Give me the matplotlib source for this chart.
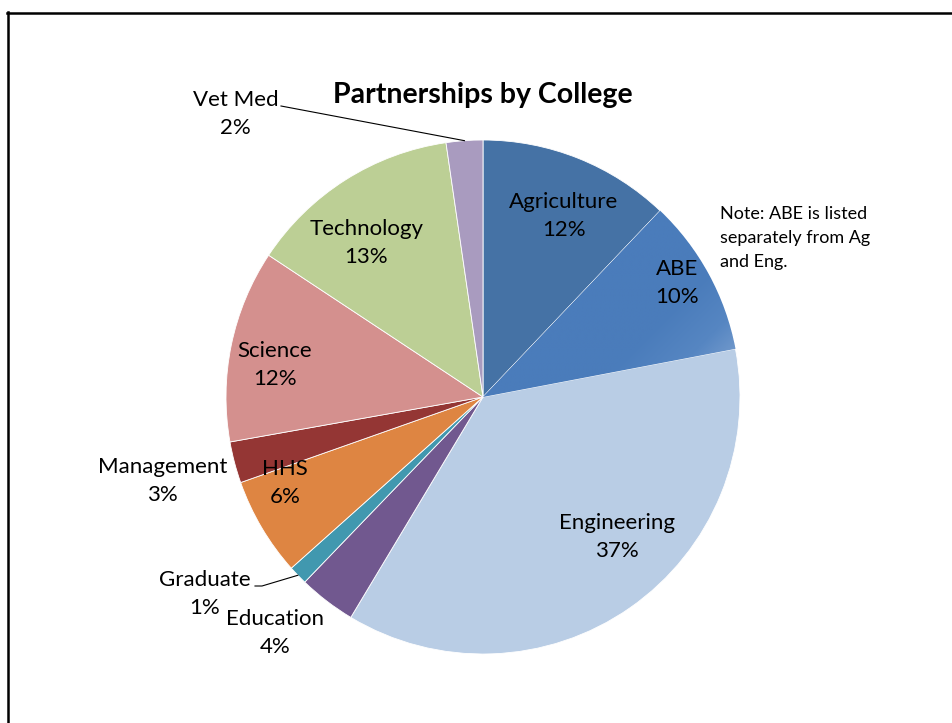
import numpy as np
import matplotlib
matplotlib.use("Agg")
import matplotlib.pyplot as plt
from matplotlib.lines import Line2D
from matplotlib.colors import LinearSegmentedColormap

# ---- data ----
colleges = ["Agriculture", "ABE", "Engineering", "Education", "Graduate",
            "HHS", "Management", "Science", "Technology", "Vet Med"]
shares = [12.1, 9.9, 36.6, 3.6, 1.2, 6.2, 2.6, 12.1, 13.4, 2.3]
title = "Partnerships by College"
note = "Note: ABE is listed\nseparately from Ag\nand Eng."

colors = ["#4572A5", "#4F81BD", "#B9CDE5", "#71588F", "#4198AF",
          "#DE8542", "#943634", "#D4908E", "#BCCF95", "#A99BBF"]

# label placement: (radius, angle offset from wedge middle in degrees)
label_r = [0.77, 0.876, 0.754, 1.224, 1.326, 0.84, 1.29, 0.819, 0.752, 1.462]
label_da = [-2.3, 1.8, 8.8, -4.0, -8.6, -7.1, 0.0, 2.9, 4.8, 37.0]
leader = {"Graduate": True, "Vet Med": True}

plt.rcParams['font.family'] = ['Lato', 'DejaVu Sans']

W, H = 952, 723
fig = plt.figure(figsize=(W / 100, H / 100), dpi=100)
ax = fig.add_axes([0, 0, 1, 1])
cx, cy, R = 483, 397, 257
ax.set_xlim(-cx / R, (W - cx) / R)
ax.set_ylim((cy - H) / R, cy / R)
ax.set_aspect('auto')
ax.axis('off')

wedges, _ = ax.pie(shares, colors=colors, startangle=90, counterclock=False,
                   radius=1.0, center=(0, 0), frame=True,
                   wedgeprops=dict(edgecolor="white", linewidth=0.6))
ax.set_xlim(-cx / R, (W - cx) / R)
ax.set_ylim((cy - H) / R, cy / R)
ax.axis('off')

# gradient on ABE wedge
w = wedges[1]
xs = np.linspace(0, 1.05, 300)
ys = np.linspace(-0.1, 1.05, 300)
X, Y = np.meshgrid(xs, ys)
a = np.deg2rad(-45)
t = X * np.cos(a) + Y * np.sin(a)
t = np.clip((t - 0.28) / 0.55, 0, 1)
cmap = LinearSegmentedColormap.from_list("abe", ["#4A7CBB", "#5686C2", "#80A3D1", "#B6CAE5"])
im = ax.imshow(t, extent=(xs[0], xs[-1], ys[0], ys[-1]), origin='lower',
               cmap=cmap, interpolation='bilinear', zorder=w.get_zorder() + 0.1,
               aspect='auto')
im.set_clip_path(w)
ax.set_xlim(-cx / R, (W - cx) / R)
ax.set_ylim((cy - H) / R, cy / R)

# labels
fs = 16
for i, (name, val) in enumerate(zip(colleges, shares)):
    wd = wedges[i]
    mid = 0.5 * (wd.theta1 + wd.theta2)
    ang = np.deg2rad(mid + label_da[i])
    lx, ly = label_r[i] * np.cos(ang), label_r[i] * np.sin(ang)
    txt = f"{name}\n{round(val):d}%"
    ax.text(lx, ly, txt, ha='center', va='center', fontsize=fs,
            linespacing=1.5, color='black', zorder=5)
    if name in leader:
        ex, ey = np.cos(np.deg2rad(mid)), np.sin(np.deg2rad(mid))
        if name == "Graduate":
            sx, sy = (255 - cx) / R, (cy - 586) / R
            hx = (262 - cx) / R
            ax.plot([sx, hx, ex], [sy, sy, ey], color='black', lw=0.8, zorder=6)
        else:
            sx, sy = (281 - cx) / R, (cy - 106) / R
            ax.plot([sx, ex], [sy, ey], color='black', lw=0.8, zorder=6)

ax.text(0, (cy - 95) / R, title, ha='center', va='center', fontsize=20.5,
        fontweight='bold')
ax.text((720 - cx) / R, (cy - 206) / R, note, ha='left', va='top',
        fontsize=13, linespacing=1.62)

# frame lines (top and left)
fig.add_artist(Line2D([7 / W, 1.0], [1 - 12.5 / H, 1 - 12.5 / H],
                      transform=fig.transFigure, color='black', lw=1.8))
fig.add_artist(Line2D([8 / W, 8 / W], [0, 1 - 12 / H],
                      transform=fig.transFigure, color='black', lw=1.8))

fig.savefig("out.png", dpi=100, facecolor='white')
